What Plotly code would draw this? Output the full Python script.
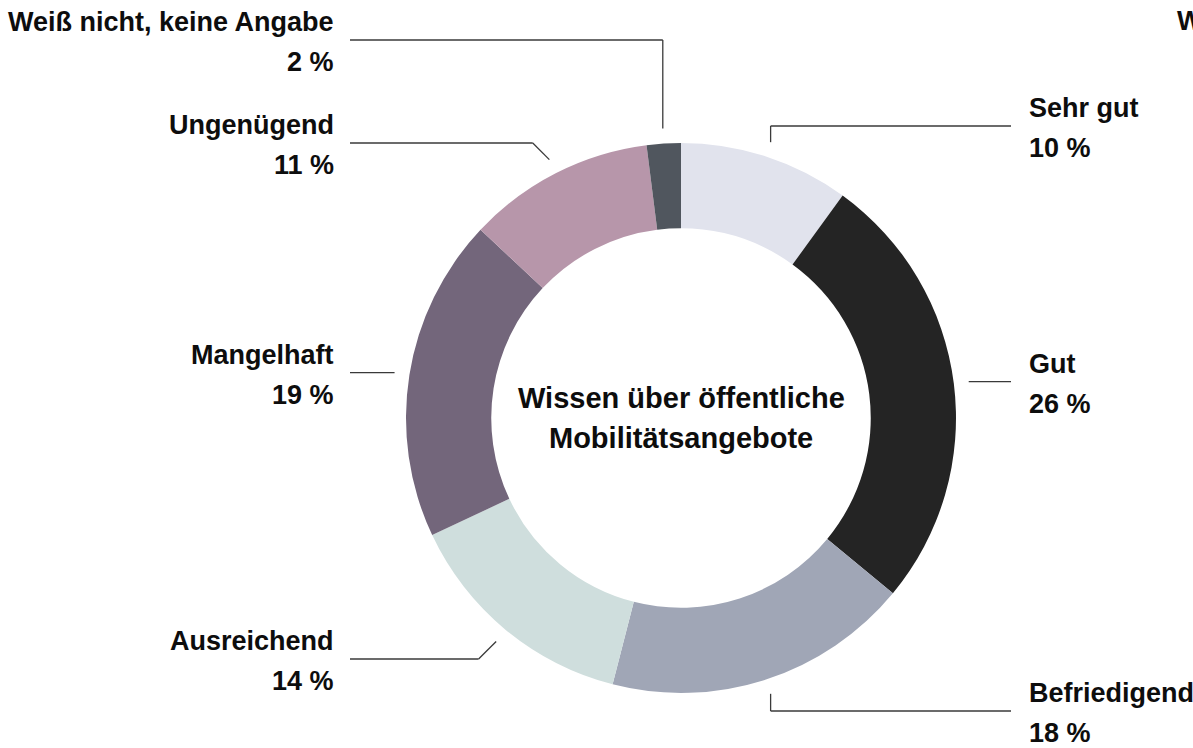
import math
import plotly.graph_objects as go

# ---- data ----
categories = ["Sehr gut", "Gut", "Befriedigend", "Ausreichend", "Mangelhaft",
              "Ungenügend", "Weiß nicht, keine Angabe"]
values = [10, 26, 18, 14, 19, 11, 2]
pct_labels = ["10 %", "26 %", "18 %", "14 %", "19 %", "11 %", "2 %"]
colors = ["#e1e3ed", "#242424", "#a0a6b6", "#cfdedd", "#73667b", "#b796aa", "#50565e"]
center_lines = ["Wissen über öffentliche", "Mobilitätsangebote"]

# ---- layout (pixels) ----
W, H = 1193, 748
CX, CY, R = 681, 418, 275
HOLE = 0.69
LEAD_R = 290
LEFT_END, RIGHT_END = 350, 1011
LEFT_TEXT, RIGHT_TEXT = 336, 1027
# side, leader y, elbow style
label_layout = {
    "Sehr gut": ("right", 126, "v"),
    "Gut": ("right", None, "h"),
    "Befriedigend": ("right", 711, "v"),
    "Ausreichend": ("left", 659, "d"),
    "Mangelhaft": ("left", None, "h"),
    "Ungenügend": ("left", 143, "d"),
    "Weiß nicht, keine Angabe": ("left", 40, "v"),
}

FONT = "Liberation Sans, Arial, Helvetica, sans-serif"
TXT = "#0d0d0d"


def fx(px):
    return px / W


def fy(py):
    return 1 - py / H


fig = go.Figure(go.Pie(
    labels=categories, values=values, sort=False, direction="clockwise",
    rotation=0, hole=HOLE, textinfo="none", hoverinfo="label+percent",
    marker=dict(colors=colors, line=dict(width=0)),
    domain=dict(x=[fx(CX - R), fx(CX + R)], y=[fy(CY + R), fy(CY - R)]),
    showlegend=False,
))

shapes = []
annotations = []


def add_text(px, py, text, anchor, size=27):
    annotations.append(dict(
        xref="paper", yref="paper", x=fx(px), y=fy(py),
        xanchor=anchor, yanchor="middle", align=anchor if anchor != "center" else "center",
        text=f"<b>{text}</b>", showarrow=False,
        font=dict(family=FONT, size=size, color=TXT),
    ))


total = sum(values)
cum = 0
line_style = dict(color="#3a3a3a", width=1.3)
for cat, v, pct in zip(categories, values, pct_labels):
    theta = (cum + v / 2) / total * 2 * math.pi
    cum += v
    x0 = CX + LEAD_R * math.sin(theta)
    y0 = CY - LEAD_R * math.cos(theta)
    side, ly, style = label_layout[cat]
    end_x = LEFT_END if side == "left" else RIGHT_END
    pts = [(x0, y0)]
    if style == "h":
        ly = y0
    elif style == "v":
        pts.append((x0, ly))
    else:
        d = abs(ly - y0)
        pts.append((x0 - d if side == "left" else x0 + d, ly))
    pts.append((end_x, ly))
    for (a, b), (c, d2) in zip(pts[:-1], pts[1:]):
        shapes.append(dict(type="line", xref="paper", yref="paper",
                           x0=fx(a), y0=fy(b), x1=fx(c), y1=fy(d2), line=line_style))
    tx = LEFT_TEXT if side == "left" else RIGHT_TEXT
    anchor = "right" if side == "left" else "left"
    add_text(tx, ly - 18, cat, anchor)
    add_text(tx, ly + 22, pct, anchor)

add_text(CX, 398, center_lines[0], "center", size=29)
add_text(CX, 438, center_lines[1], "center", size=29)
# label of the neighbouring chart, cut off at the right edge (as in the reference)
add_text(1175, 21, "Weiß nicht, keine Angabe", "left")

fig.update_layout(
    width=W, height=H, margin=dict(l=0, r=0, t=0, b=0),
    paper_bgcolor="white", plot_bgcolor="white",
    shapes=shapes, annotations=annotations,
)
fig.write_html("out.html", config={"displayModeBar": False},
               post_script="document.body.style.margin='0px';")
